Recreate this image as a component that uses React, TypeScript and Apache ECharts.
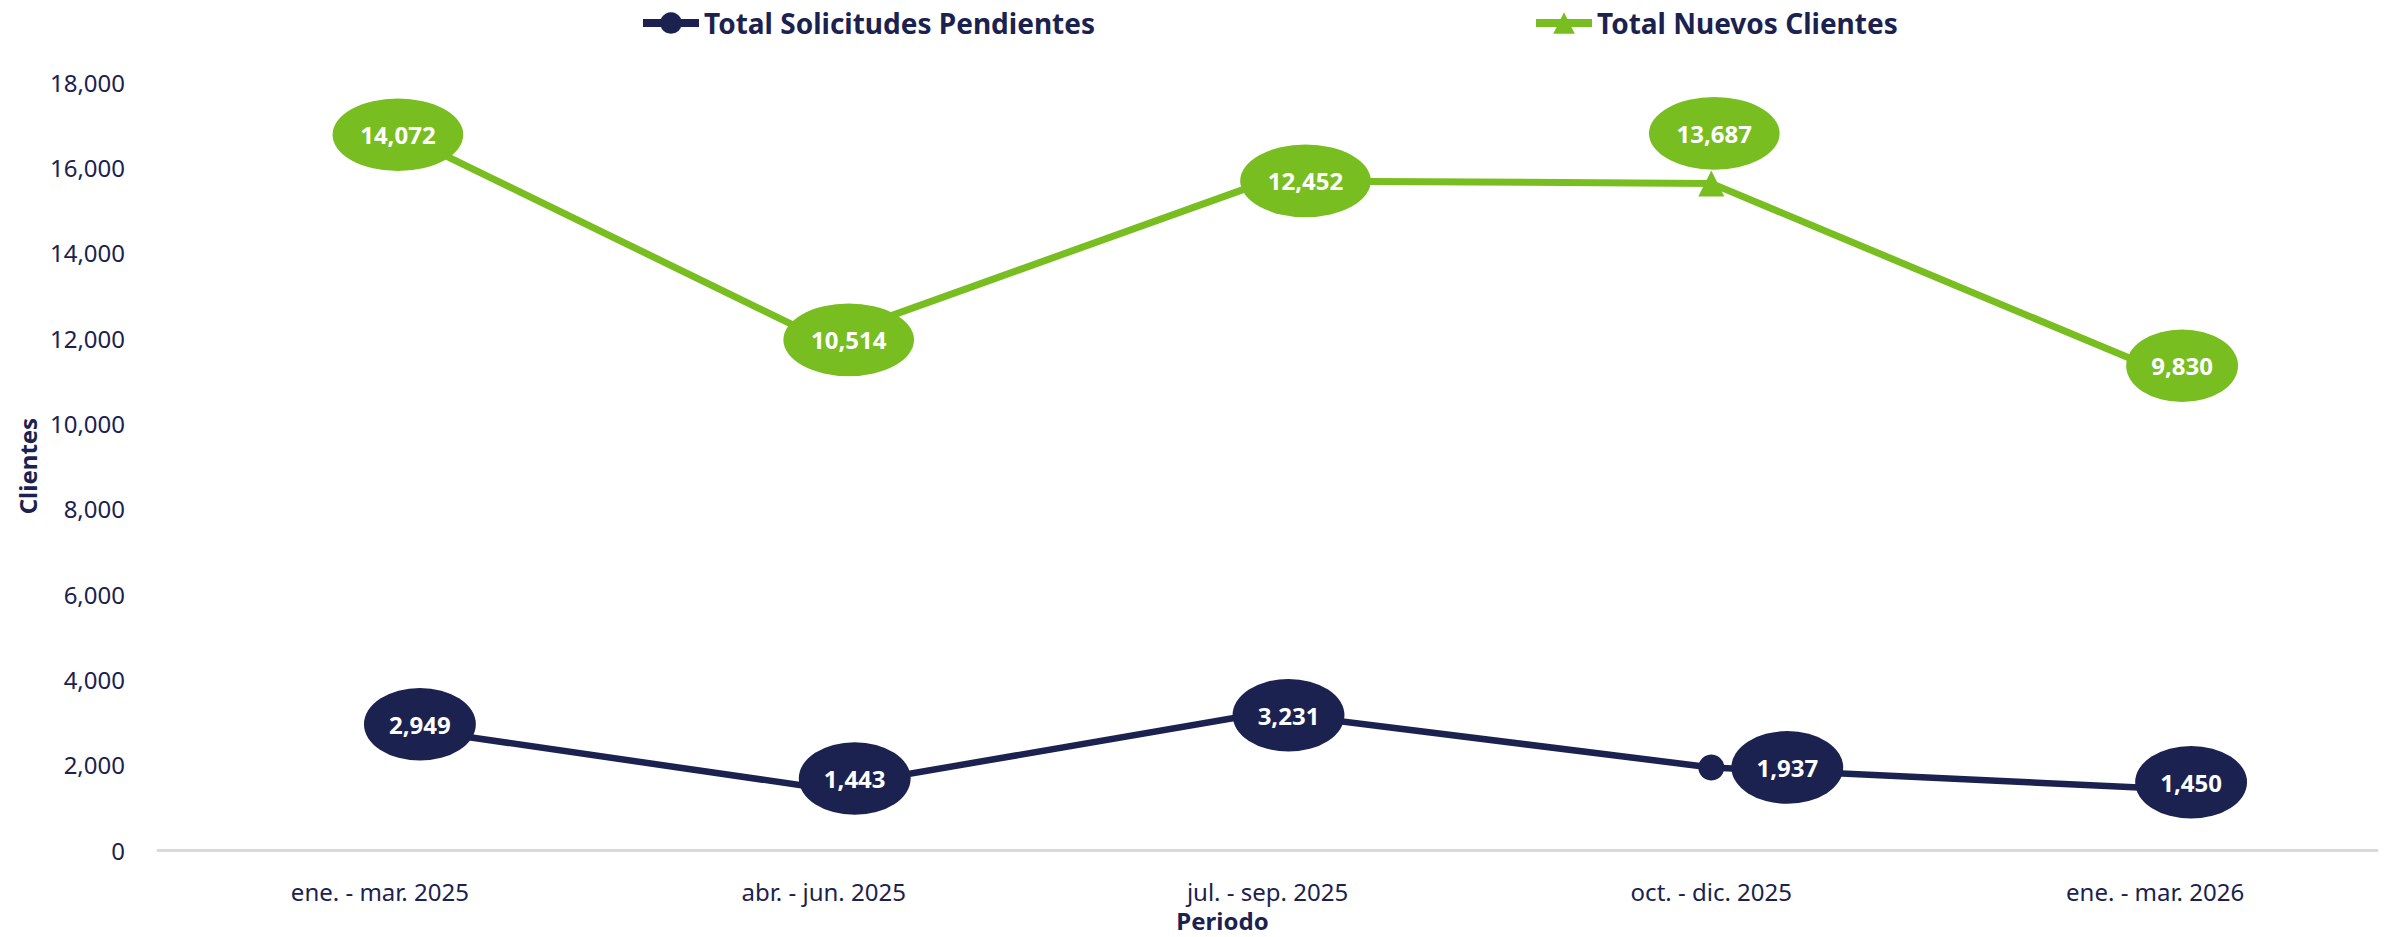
import React, { useEffect, useRef } from "react";
import * as echarts from "echarts";

const categories = [
  "ene. - mar. 2025",
  "abr. - jun. 2025",
  "jul. - sep. 2025",
  "oct. - dic. 2025",
  "ene. - mar. 2026",
];
const solicitudesPendientes = [2949, 1443, 3231, 1937, 1450];
const nuevosClientes = [14072, 10514, 12452, 13687, 9830];
const yTicks = { min: 0, max: 18000, interval: 2000 };

const NAVY = "#1B2250";
const GREEN = "#78BE21";
const FONT = "'Noto Sans', 'Open Sans', sans-serif";

// label bubble offsets (style only), relative to data point, in px
const pendientesLabelOffsets = [[40, 0], [31, -10], [21, 3], [76, 0], [36, -6]];
const nuevosLabelOffsets = [[18, 11], [25, 0], [38, 0], [3, -50], [27, -3]];
const markerIndex = 3;

function ellipseUrl(color: string) {
  const svg = `<svg xmlns="http://www.w3.org/2000/svg" width="200" height="112" viewBox="0 0 200 112" preserveAspectRatio="none"><ellipse cx="100" cy="56" rx="99" ry="55" fill="${color}"/></svg>`;
  return "data:image/svg+xml;charset=utf-8," + encodeURIComponent(svg);
}

function fmt(v: number) {
  return v.toLocaleString("en-US");
}

function buildData(values: number[], offsets: number[][], color: string) {
  const img = ellipseUrl(color);
  return values.map((v, i) => {
    const text = fmt(v);
    const w = 18 + 19 * text.length;
    const h = 74;
    return {
      value: v,
      itemStyle: i === markerIndex ? { color } : { color: "transparent" },
      label: {
        show: true,
        position: "inside",
        offset: offsets[i],
        formatter: () => text,
        width: w,
        height: h,
        lineHeight: h,
        align: "center",
        verticalAlign: "middle",
        color: "#FFFFFF",
        fontSize: 24,
        fontWeight: "bold",
        fontFamily: FONT,
        backgroundColor: { image: img },
      },
    };
  });
}

export default function App() {
  const ref = useRef<HTMLDivElement>(null);
  useEffect(() => {
    if (!ref.current) return;
    const chart = echarts.init(ref.current, null, { renderer: "svg" });
    const legendCommon = {
      top: 4,
      itemWidth: 56,
      itemHeight: 27,
      lineStyle: { width: 8 },
      textStyle: { color: NAVY, fontSize: 28, fontWeight: "bold", fontFamily: FONT },
    };
    chart.setOption({
      animation: false,
      textStyle: { fontFamily: FONT },
      legend: [
        { ...legendCommon, left: 634, data: ["Total Solicitudes Pendientes"] },
        { ...legendCommon, left: 1527, data: ["Total Nuevos Clientes"] },
      ],
      grid: { left: 158, right: 10, top: 82, bottom: 81, containLabel: false },
      xAxis: {
        type: "category",
        data: categories,
        boundaryGap: true,
        name: "Periodo",
        nameLocation: "middle",
        nameGap: 55,
        nameTextStyle: {
          color: NAVY,
          fontSize: 24,
          fontWeight: "bold",
          fontFamily: FONT,
          padding: [0, 90, 0, 0],
        },
        axisLine: { show: true, lineStyle: { color: "#D9D9D9", width: 3 } },
        axisTick: { show: false },
        axisLabel: { color: NAVY, fontSize: 24, margin: 29, fontFamily: FONT },
        splitLine: { show: false },
      },
      yAxis: {
        type: "value",
        min: yTicks.min,
        max: yTicks.max,
        interval: yTicks.interval,
        name: "Clientes",
        nameLocation: "middle",
        nameGap: 118,
        nameTextStyle: { color: NAVY, fontSize: 24, fontWeight: "bold", fontFamily: FONT },
        axisLine: { show: false },
        axisTick: { show: false },
        splitLine: { show: false },
        axisLabel: {
          color: NAVY,
          fontSize: 24,
          margin: 33,
          padding: [0, 0, 10, 0],
          fontFamily: FONT,
          formatter: (v: number) => fmt(v),
        },
      },
      series: [
        {
          name: "Total Solicitudes Pendientes",
          type: "line",
          stack: "total",
          symbol: "circle",
          symbolSize: 26,
          showSymbol: true,
          color: NAVY,
          itemStyle: { color: NAVY },
          lineStyle: { color: NAVY, width: 6.5 },
          data: buildData(solicitudesPendientes, pendientesLabelOffsets, NAVY),
          z: 3,
        },
        {
          name: "Total Nuevos Clientes",
          type: "line",
          stack: "total",
          symbol: "triangle",
          symbolSize: 26,
          showSymbol: true,
          color: GREEN,
          itemStyle: { color: GREEN },
          lineStyle: { color: GREEN, width: 7 },
          data: buildData(nuevosClientes, nuevosLabelOffsets, GREEN),
          z: 2,
        },
      ],
    });
    return () => chart.dispose();
  }, []);
  return (
    <div
      ref={ref}
      style={{ position: "fixed", left: 0, top: 0, width: 2387, height: 937, background: "#fff" }}
    />
  );
}
